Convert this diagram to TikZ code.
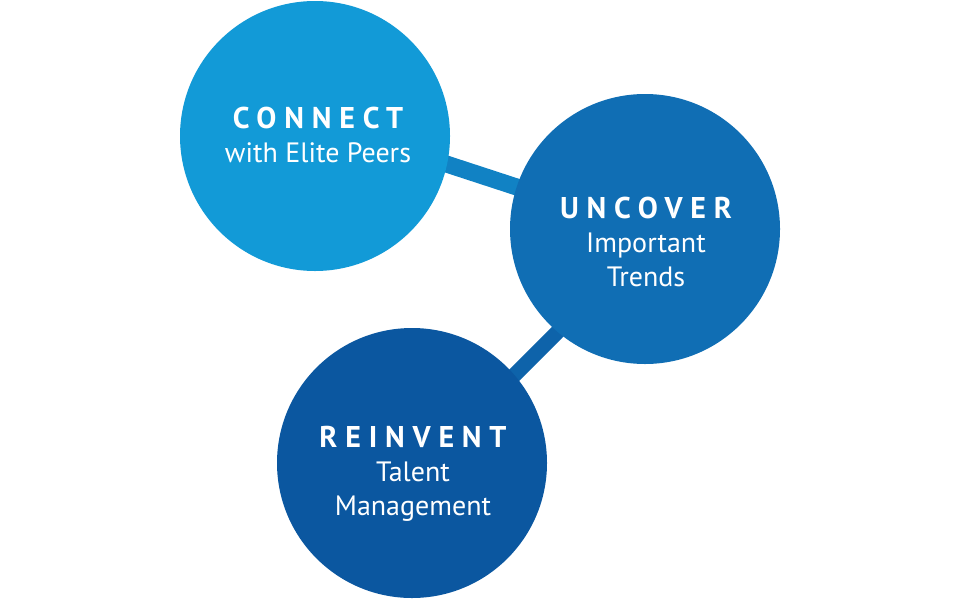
\documentclass[tikz,border=0pt]{standalone}
\usepackage{fontspec}
\setmainfont{PT Sans}
\newfontfamily\headfont[LetterSpace=26]{PT Sans Bold}
\usepackage{xcolor}
\usetikzlibrary{positioning, backgrounds, calc}
\definecolor{connectblue}{HTML}{129AD7}
\definecolor{uncoverblue}{HTML}{106EB4}
\definecolor{reinventblue}{HTML}{0B57A0}
\tikzset{
  bubble/.style={circle, minimum size=270pt, inner sep=0pt, draw=none},
  connectc/.style ={bubble, fill=connectblue},
  uncoverc/.style ={bubble, fill=uncoverblue},
  reinventc/.style={bubble, fill=reinventblue},
  txt/.style={text=white, align=center, inner sep=0pt,
              font=\fontsize{28}{34}\selectfont},
  link/.style={line width=17pt},
}
\newcommand{\headtxt}[1]{{\headfont\fontsize{30}{34}\selectfont #1}}

\begin{document}
\begin{tikzpicture}[x=1pt, y=-1pt]
  \useasboundingbox (0,0) rectangle (960,600);

  % ── Bubbles ──────────────────────────────────────────────────────────────
  \node[connectc]  (connect)  at (315,136) {};
  \node[uncoverc]  (uncover)  at (645,229) {};
  \node[reinventc] (reinvent) at (412,463) {};

  % ── Texts ────────────────────────────────────────────────────────────────
  \node[txt] (connecttxt)  at (318,135) {\headtxt{CONNECT}\\with Elite Peers};
  \node[txt] (uncovertxt)  at (646,242) {\headtxt{UNCOVER}\\Important\\Trends};
  \node[txt] (reinventtxt) at (413,474) {\headtxt{REINVENT}\\Talent\\Management};

  % ── Links ────────────────────────────────────────────────────────────────
  \begin{scope}[on background layer]
    \draw[link, draw=connectblue!45!uncoverblue]
      ([yshift=15pt]connect.center) -- (uncover.center);
    \draw[link, line width=15pt, draw=uncoverblue!50!reinventblue]
      ([yshift=-15pt]uncover.center) -- ([yshift=-15pt]reinvent.center);
  \end{scope}

\end{tikzpicture}
\end{document}
